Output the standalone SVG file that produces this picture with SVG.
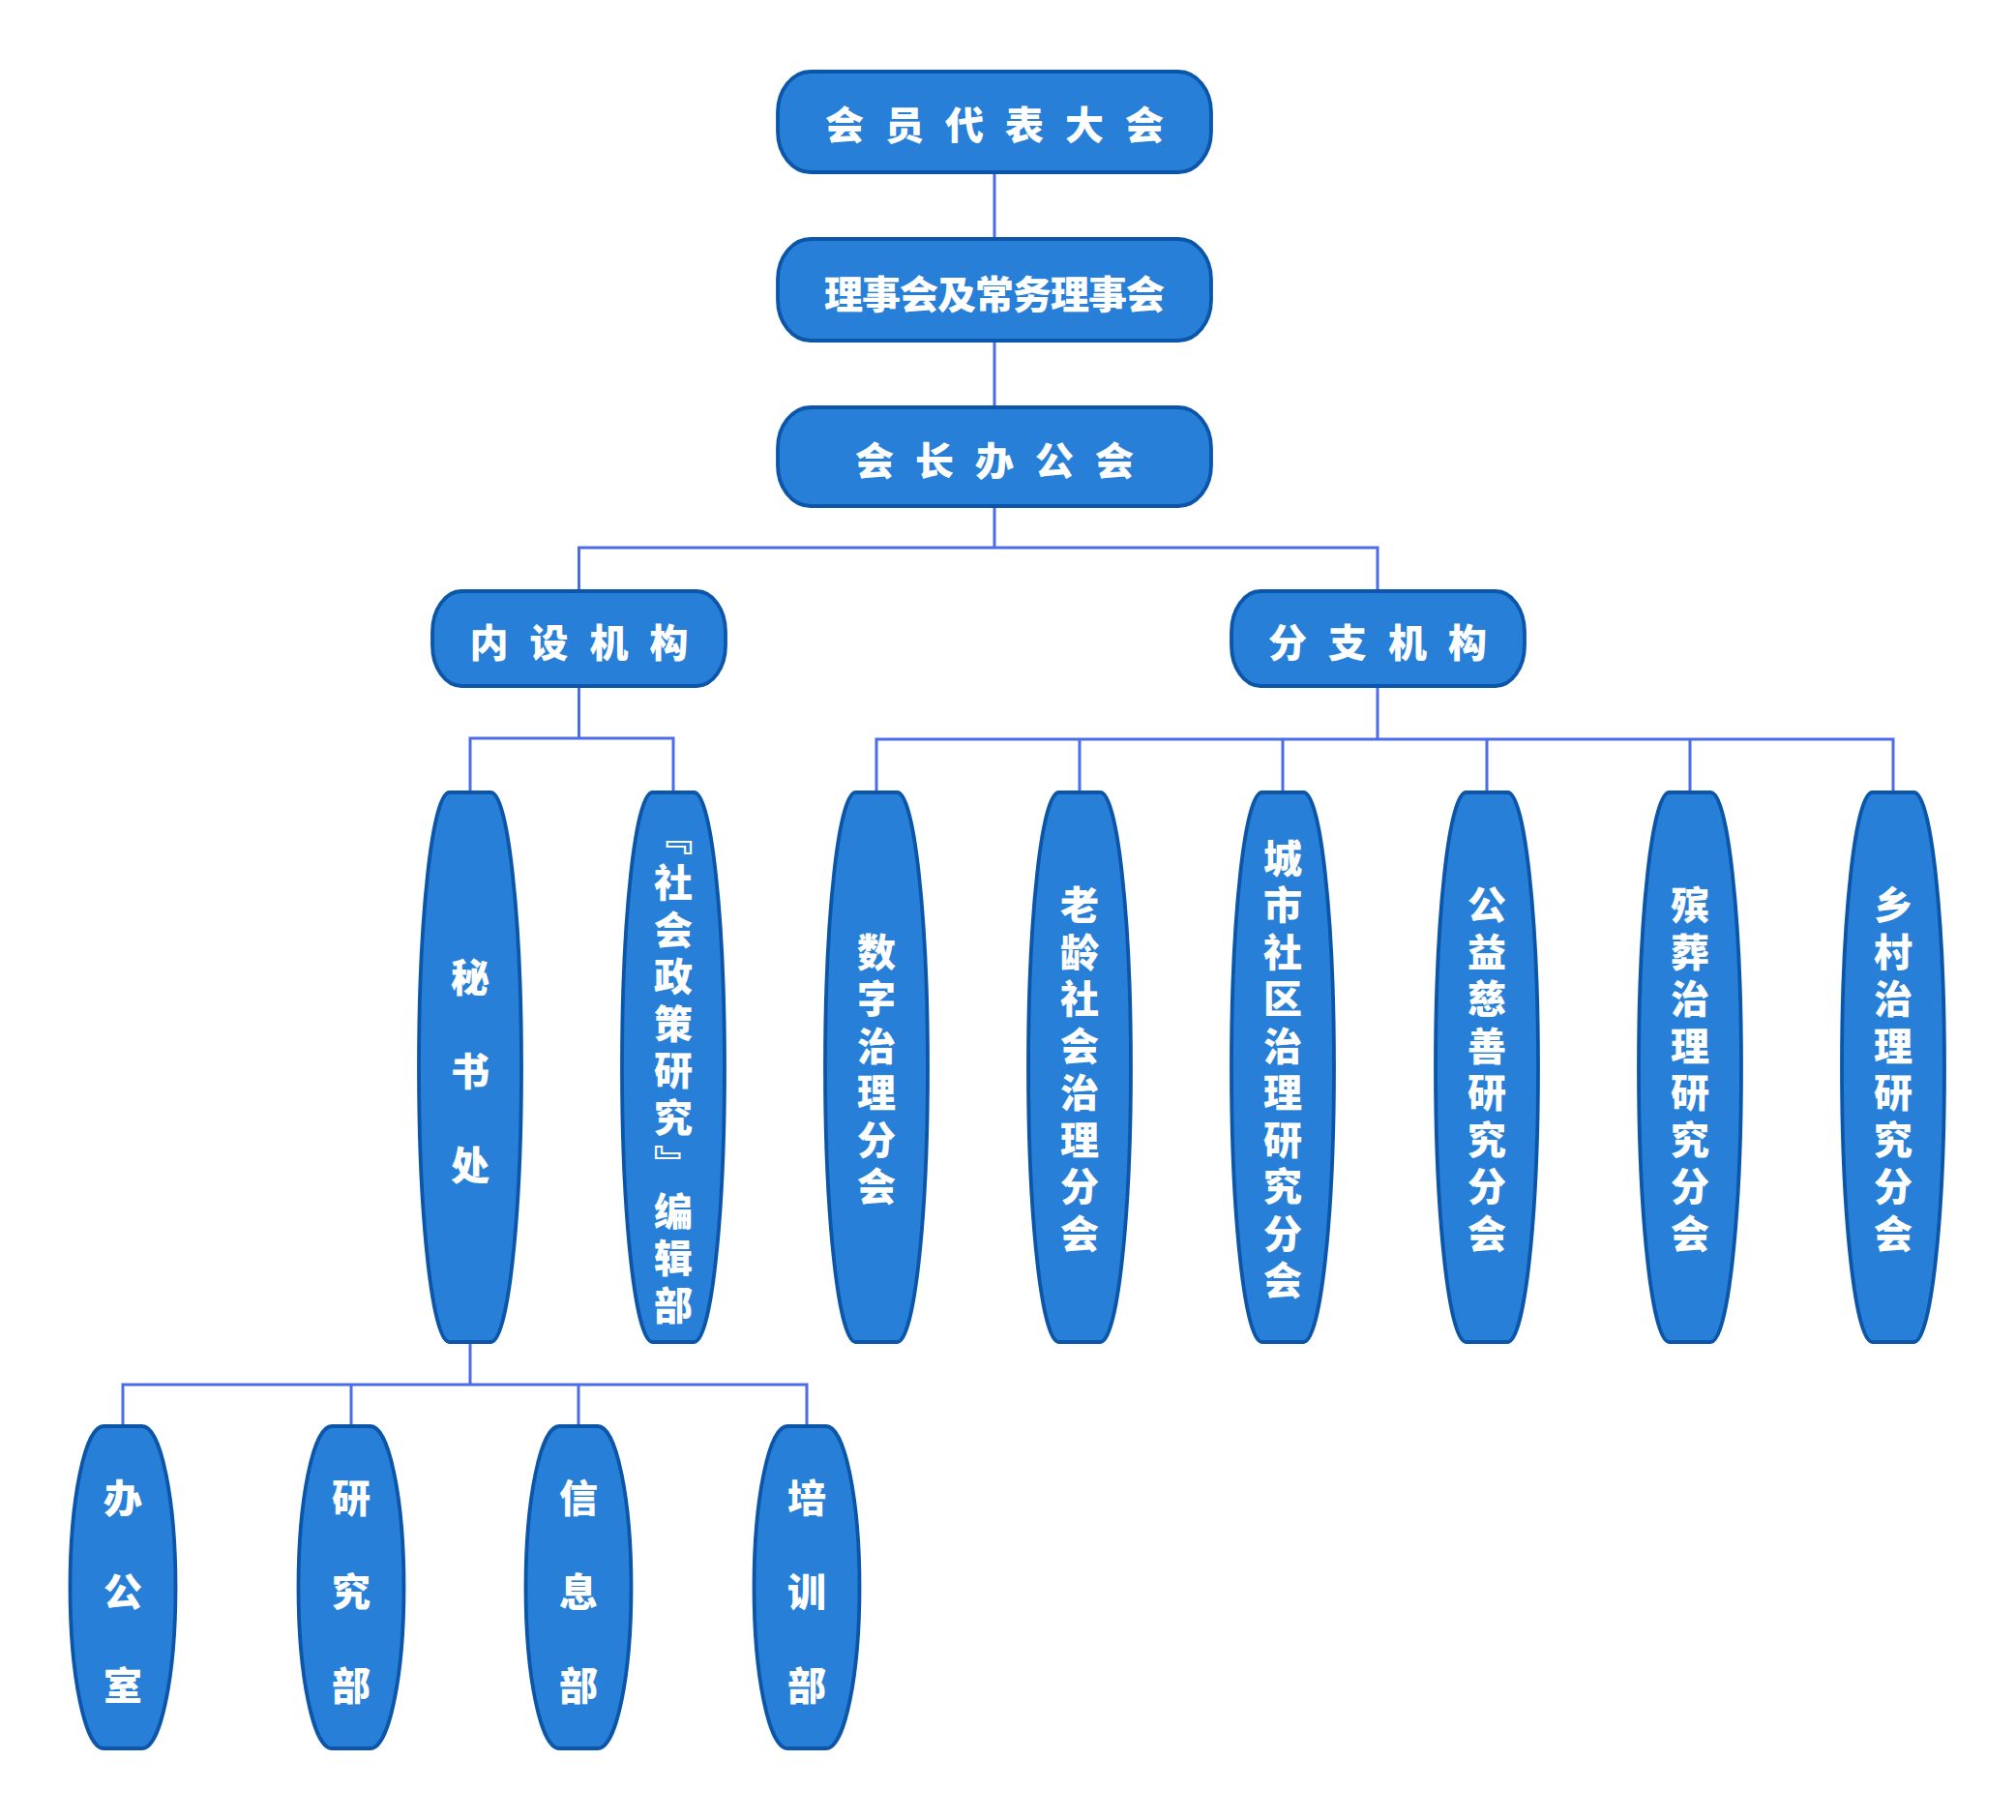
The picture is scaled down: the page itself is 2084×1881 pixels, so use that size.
<svg xmlns="http://www.w3.org/2000/svg" xmlns:xlink="http://www.w3.org/1999/xlink" width="2084" height="1881" viewBox="0 0 2084 1881">
<style>
.shape{fill:#277fd8;stroke:#0b56a8;stroke-width:3.8;stroke-linejoin:round}
.lbl{fill:#ffffff;font-family:"Noto Sans CJK SC","Noto Sans CJK JP",sans-serif;font-weight:900;font-size:40px}
.h{dominant-baseline:central}
.v{writing-mode:vertical-rl;letter-spacing:8.5px}
.v3{writing-mode:vertical-rl;letter-spacing:57px}
.conn{fill:none;stroke:#4c6ce8;stroke-width:3}
</style>
<defs>
<path id="tall" d="M-21.5,0 H21.5 A31.5 284 0 0 1 53,284 A31.5 284 0 0 1 21.5,568 H-21.5 A31.5 284 0 0 1 -53,284 A31.5 284 0 0 1 -21.5,0 Z"/>
<path id="short" d="M-20,0 H20 A34.5 166.5 0 0 1 54.5,166.5 A34.5 166.5 0 0 1 20,333 H-20 A34.5 166.5 0 0 1 -54.5,166.5 A34.5 166.5 0 0 1 -20,0 Z"/>
</defs>
<rect width="2084" height="1881" fill="#ffffff"/>
<g id="connectors">
<path class="conn" d="M1028,178 V247 M1028,352 V421 M1028,523 V566 M598.5,611 V566 H1424 V611"/>
<path class="conn" d="M598.5,709 V763 M486,819 V763 H696 V819"/>
<path class="conn" d="M1424,709 V764 M906,819 V764 H1957 V819 M1116,764 V819 M1326,764 V819 M1537,764 V819 M1747,764 V819"/>
<path class="conn" d="M486,1387 V1431 M127,1474 V1431 H834 V1474 M363,1431 V1474 M598,1431 V1474"/>
</g>
<g id="n1"><rect class="shape" x="804" y="74" width="448" height="104" rx="34" ry="42"/><text class="lbl h" x="853" y="127" letter-spacing="22">会员代表大会</text></g>
<g id="n2"><rect class="shape" x="804" y="247" width="448" height="105" rx="34" ry="42"/><text class="lbl h" x="852" y="302" letter-spacing="-1">理事会及常务理事会</text></g>
<g id="n3"><rect class="shape" x="804" y="421" width="448" height="102" rx="34" ry="42"/><text class="lbl h" x="884" y="474" letter-spacing="22">会长办公会</text></g>
<g id="n4"><rect class="shape" x="447" y="611" width="303" height="98" rx="30" ry="42"/><text class="lbl h" x="485.5" y="662" letter-spacing="22">内设机构</text></g>
<g id="n5"><rect class="shape" x="1273" y="611" width="303" height="98" rx="30" ry="42"/><text class="lbl h" x="1311" y="662" letter-spacing="22">分支机构</text></g>
<g id="n6"><use xlink:href="#tall" href="#tall" class="shape" x="486" y="819"/><text class="lbl v3" x="486" y="990">秘书处</text></g>
<g id="n7"><use xlink:href="#tall" href="#tall" class="shape" x="696" y="819"/><text class="lbl v" x="696" y="843.5">『社会政策研究』编辑部</text></g>
<g id="n8"><use xlink:href="#tall" href="#tall" class="shape" x="906" y="819"/><text class="lbl v" x="906" y="963.75">数字治理分会</text></g>
<g id="n9"><use xlink:href="#tall" href="#tall" class="shape" x="1116" y="819"/><text class="lbl v" x="1116" y="915.25">老龄社会治理分会</text></g>
<g id="n10"><use xlink:href="#tall" href="#tall" class="shape" x="1326" y="819"/><text class="lbl v" x="1326" y="866.75">城市社区治理研究分会</text></g>
<g id="n11"><use xlink:href="#tall" href="#tall" class="shape" x="1537" y="819"/><text class="lbl v" x="1537" y="915.25">公益慈善研究分会</text></g>
<g id="n12"><use xlink:href="#tall" href="#tall" class="shape" x="1747" y="819"/><text class="lbl v" x="1747" y="915.25">殡葬治理研究分会</text></g>
<g id="n13"><use xlink:href="#tall" href="#tall" class="shape" x="1957" y="819"/><text class="lbl v" x="1957" y="915.25">乡村治理研究分会</text></g>
<g id="n14"><use xlink:href="#short" href="#short" class="shape" x="127" y="1474"/><text class="lbl v3" x="127" y="1527.5">办公室</text></g>
<g id="n15"><use xlink:href="#short" href="#short" class="shape" x="363" y="1474"/><text class="lbl v3" x="363" y="1527.5">研究部</text></g>
<g id="n16"><use xlink:href="#short" href="#short" class="shape" x="598" y="1474"/><text class="lbl v3" x="598" y="1527.5">信息部</text></g>
<g id="n17"><use xlink:href="#short" href="#short" class="shape" x="834" y="1474"/><text class="lbl v3" x="834" y="1527.5">培训部</text></g>
</svg>
